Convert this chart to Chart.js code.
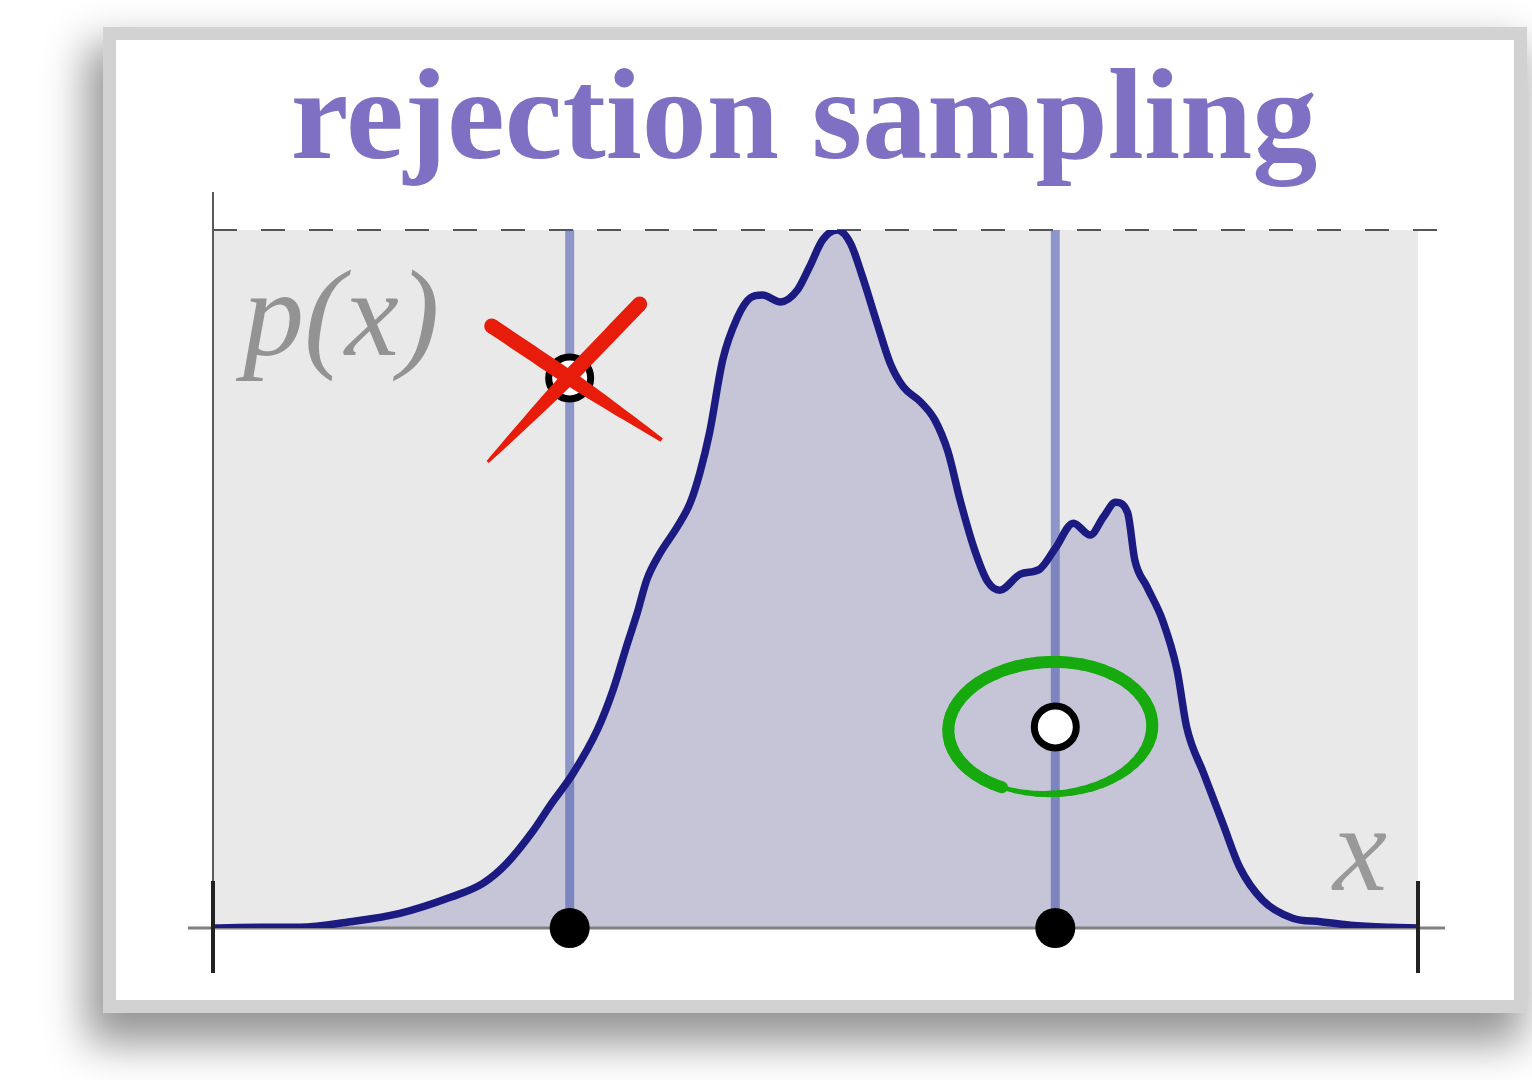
<!DOCTYPE html>
<html>
<head>
<meta charset="utf-8">
<script src="https://cdn.jsdelivr.net/npm/chart.js@4.4.1/dist/chart.umd.min.js"></script>
<style>
html,body{margin:0;padding:0;background:#fff;}
body{width:1532px;height:1080px;position:relative;overflow:hidden;}
.card{position:absolute;left:103px;top:27px;width:1424px;height:986px;box-sizing:border-box;background:#fff;border:13px solid #d2d2d2;box-shadow:-10px 24px 40px 6px rgba(0,0,0,0.42);}
#c{position:absolute;left:0;top:0;}
</style>
</head>
<body>
<div class="card"></div>
<canvas id="c" width="1532" height="1080"></canvas>
<script>
// target density p(x), normalised so the peak is 1
const xs = [0, 0.39, 0.72, 1.14, 1.55, 1.97, 2.24, 2.44, 2.66, 2.80, 2.99, 3.19, 3.32, 3.44, 3.52, 3.60,
  3.71, 3.85, 3.96, 4.04, 4.12, 4.23, 4.35, 4.46, 4.56, 4.71, 4.85, 4.95, 5.06, 5.18, 5.29, 5.39,
  5.51, 5.62, 5.73, 5.87, 5.99, 6.10, 6.20, 6.32, 6.43, 6.53, 6.70, 6.86, 6.99, 7.14, 7.28, 7.39,
  7.49, 7.59, 7.65, 7.75, 7.88, 8.00, 8.08, 8.22, 8.38, 8.52, 8.71, 8.96, 9.19, 9.44, 9.77, 10];
const ps = [0, 0.001, 0.001, 0.009, 0.021, 0.044, 0.064, 0.093, 0.140, 0.176, 0.222, 0.284, 0.341, 0.408, 0.451, 0.499,
  0.537, 0.574, 0.609, 0.652, 0.709, 0.814, 0.874, 0.903, 0.907, 0.897, 0.914, 0.947, 0.986, 1.000, 0.981, 0.933,
  0.867, 0.809, 0.775, 0.754, 0.728, 0.682, 0.613, 0.542, 0.496, 0.484, 0.507, 0.514, 0.544, 0.580, 0.563, 0.589,
  0.610, 0.595, 0.527, 0.489, 0.441, 0.370, 0.288, 0.222, 0.150, 0.087, 0.040, 0.014, 0.009, 0.004, 0.001, 0];

// proposals x ~ uniform, heights u ~ uniform(0, max p)
const sampleX = [2.96, 6.99];
const sampleU = [0.788, 0.288];
const accepted = [false, true];

const TITLE = 'rejection sampling';
const Y_LABEL = 'p(x)';
const X_LABEL = 'x';

const curve = xs.map((x, i) => ({x, y: ps[i]}));

const sampleLines = sampleX.map(x => ({
  type: 'line',
  data: [{x, y: 0}, {x, y: 1}],
  borderColor: 'rgba(70,84,175,0.57)',
  borderWidth: 9,
  pointRadius: 0,
  fill: false
}));

// marker-pen stroke: full width for a while, then tapering off
function brush(ctx, x0, y0, x1, y1, w0, w1){
  const a = Math.atan2(y1 - y0, x1 - x0);
  const nx = -Math.sin(a), ny = Math.cos(a);
  const n = 30, left = [], right = [];
  for (let k = 0; k <= n; k++) {
    const t = k/n;
    const w = t < 0.45 ? w0 : w0 - (w0 - w1)*Math.pow((t - 0.45)/0.55, 1.3);
    const px = x0 + (x1 - x0)*t, py = y0 + (y1 - y0)*t;
    left.push([px + nx*w/2, py + ny*w/2]);
    right.push([px - nx*w/2, py - ny*w/2]);
  }
  ctx.beginPath();
  left.forEach(([px, py], k) => k ? ctx.lineTo(px, py) : ctx.moveTo(px, py));
  right.reverse().forEach(([px, py]) => ctx.lineTo(px, py));
  ctx.closePath();
  ctx.fill();
  ctx.beginPath();
  ctx.arc(x0, y0, w0/2, 0, Math.PI*2);
  ctx.fill();
}

const decor = {
  id: 'decor',
  beforeDraw(chart){
    const {ctx, chartArea: a} = chart;
    ctx.save();
    ctx.fillStyle = '#e9e9e9';
    ctx.fillRect(a.left, a.top, a.right - a.left, a.bottom - a.top);
    ctx.restore();
  },
  beforeDatasetsDraw(chart){
    const {ctx, chartArea: a} = chart;
    ctx.save();
    // dashed bound M*q(x)
    ctx.strokeStyle = '#555';
    ctx.lineWidth = 2;
    ctx.setLineDash([24, 24]);
    ctx.beginPath();
    ctx.moveTo(a.left, a.top);
    ctx.lineTo(a.right + 27, a.top);
    ctx.stroke();
    ctx.setLineDash([]);
    // axes
    ctx.strokeStyle = '#5a5a5a';
    ctx.lineWidth = 2;
    ctx.beginPath();
    ctx.moveTo(a.left, a.top - 38);
    ctx.lineTo(a.left, a.bottom);
    ctx.stroke();
    ctx.strokeStyle = '#808080';
    ctx.lineWidth = 3;
    ctx.beginPath();
    ctx.moveTo(a.left - 25, a.bottom);
    ctx.lineTo(a.right + 27, a.bottom);
    ctx.stroke();
    ctx.restore();
  },
  afterDatasetsDraw(chart){
    const {ctx, chartArea: a, scales: {x, y}} = chart;
    ctx.save();
    // end ticks
    ctx.strokeStyle = '#222';
    ctx.lineWidth = 4;
    [a.left, a.right].forEach(px => {
      ctx.beginPath();
      ctx.moveTo(px, a.bottom - 47);
      ctx.lineTo(px, a.bottom + 45);
      ctx.stroke();
    });
    // marks on the proposals
    sampleX.forEach((sx, i) => {
      const cx = x.getPixelForValue(sx), cy = y.getPixelForValue(sampleU[i]);
      if (accepted[i]) {
        ctx.strokeStyle = '#17aa0f';
        const rx = 102, ry = 66, ox = cx - 5, oy = cy + 1;
        const start = 2.09, end = 2.09 + Math.PI*2 + 0.3;
        const steps = 60;
        ctx.lineCap = 'round';
        for (let k = 0; k < steps; k++) {
          const t0 = start + (end - start)*k/steps, t1 = start + (end - start)*(k + 1)/steps;
          const f = k/steps;
          ctx.lineWidth = f < 0.65 ? 12 : 12 - (f - 0.65)/0.35*9;
          ctx.beginPath();
          ctx.ellipse(ox, oy, rx, ry, -0.04, t0, t1);
          ctx.stroke();
        }
      } else {
        ctx.fillStyle = '#e81c0a';
        brush(ctx, cx - 78, cy - 52, cx + 92, cy + 62, 15, 4);
        brush(ctx, cx + 70, cy - 74, cx - 82, cy + 84, 15, 3);
      }
    });
    ctx.restore();
  },
  afterDraw(chart){
    const {ctx, chartArea: a} = chart;
    ctx.save();
    ctx.fillStyle = '#8070c4';
    ctx.font = 'bold 130px "Liberation Serif"';
    ctx.textAlign = 'center';
    ctx.textBaseline = 'alphabetic';
    ctx.fillText(TITLE, 804, 158);
    ctx.textAlign = 'left';
    ctx.font = 'italic 122px "Liberation Serif"';
    ctx.fillStyle = '#939393';
    ctx.fillText(Y_LABEL, a.left + 30, a.top + 125);
    ctx.fillStyle = '#999';
    ctx.fillText(X_LABEL, a.right - 85, a.bottom - 38);
    ctx.restore();
  }
};

new Chart(document.getElementById('c'), {
  type: 'line',
  data: {
    datasets: [
      {
        label: 'p(x)',
        data: curve,
        borderColor: '#1b1b82',
        backgroundColor: '#c5c5d7',
        borderWidth: 7.5,
        pointRadius: 0,
        cubicInterpolationMode: 'monotone',
        fill: 'origin',
        order: 1
      },
      ...sampleLines.map(d => ({...d, order: 2})),
      {
        type: 'scatter',
        label: 'x samples',
        data: sampleX.map(x => ({x, y: 0})),
        pointRadius: 20,
        pointBackgroundColor: '#000',
        pointBorderWidth: 0,
        clip: false,
        order: 0
      },
      {
        type: 'scatter',
        label: 'proposals',
        data: sampleX.map((x, i) => ({x, y: sampleU[i]})),
        pointRadius: 21,
        pointBackgroundColor: '#fff',
        pointBorderColor: '#000',
        pointBorderWidth: 7,
        clip: false,
        order: 0
      }
    ]
  },
  options: {
    responsive: false,
    animation: false,
    layout: {padding: {left: 213, right: 114, top: 230, bottom: 152}},
    scales: {
      x: {type: 'linear', min: 0, max: 10, display: false},
      y: {min: 0, max: 1, display: false}
    },
    plugins: {
      legend: {display: false},
      tooltip: {enabled: false},
      filler: {drawTime: 'beforeDatasetsDraw'}
    }
  },
  plugins: [decor]
});
</script>
</body>
</html>
